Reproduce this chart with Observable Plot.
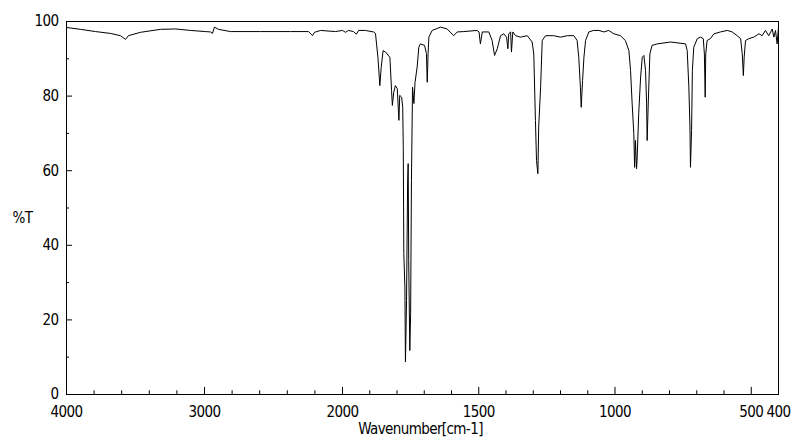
<!DOCTYPE html>
<html><head><meta charset="utf-8">
<script src="https://cdn.jsdelivr.net/npm/d3@7"></script>
<script src="https://cdn.jsdelivr.net/npm/@observablehq/plot@0.6"></script>
<style>html,body{margin:0;padding:0;background:#fff;overflow:hidden}
svg text{letter-spacing:-0.6px}</style>
</head><body><div id="chart"></div>
<script>
const wavenumber = [4000,3899,3790,3681,3609,3572,3551,3464,3319,3210,3101,2993,2957,2942,2928,2899,2812,2594,2377,2246,2217,2203,2159,2051,2000,
1989,1978,1960,1949,1941,1916,1886,1879,1870,1863,1858,1851,1842,1826,1820,1817,1812,1806,1799,1793,1790,1783,1779,1777,1775,1771,1769,1765,1761,1759,1757,1753,1750,1747,1743,1738,1734,1726,1720,1714,1699,1692,1689,1686,1683,1671,1640,1616,1592,1579,1555,1506,1499,1494,1487,1463,1451,1442,1432,1420,1408,1398,1393,1390,1383,1380,1375,1365,1347,1322,1304,1298,1292,1288,1283,1280,1273,1267,1255,1225,1200,1175,1151,1139,1133,1127,1124,1119,1114,1108,1096,1078,1059,1041,1023,1004,980,962,949,943,937,931,928,925,921,919,913,906,900,894,888,884,882,878,872,864,845,796,741,735,729,725,723,719,716,711,698,686,676,672,669,667,662,650,637,613,588,570,552,539,533,529,526,521,509,491,472,460,448,436,423,417,411,405,400];
const transmittance = [98.4,97.9,97.3,96.8,96.2,95.2,96.2,97.1,97.9,98.0,97.6,97.3,97.2,96.8,98.5,97.9,97.3,97.3,97.3,97.3,96.2,97.1,97.6,97.3,97.6,
97.1,97.6,97.3,96.6,97.6,97.6,97.2,96.8,90.4,82.8,87.7,92.2,91.8,90.4,81.5,77.5,81.0,82.8,82.0,73.5,80.2,79.7,77.0,66.3,37.8,28.8,8.7,25.2,57.4,61.9,35.9,11.8,21.7,57.4,82.4,78.0,83.6,87.8,93.1,94.0,93.6,91.4,83.7,91.4,95.8,97.6,98.5,98.0,96.2,97.2,97.3,97.6,97.2,94.0,97.2,97.2,94.9,90.9,92.7,96.2,96.7,95.8,92.7,96.7,97.2,91.8,97.2,96.2,95.8,96.2,94.5,91.3,73.5,62.7,59.2,71.7,82.4,94.9,96.2,96.2,95.8,96.2,96.2,94.9,90.4,82.4,77.0,84.2,90.4,94.9,97.2,97.6,97.6,97.2,97.6,96.7,96.2,94.9,92.2,86.9,77.9,70.0,60.9,68.1,60.5,62.7,75.3,85.1,90.4,90.9,86.9,77.9,68.1,77.9,91.3,93.6,94.0,94.5,94.0,92.2,82.4,71.7,60.9,70.8,86.9,93.1,95.4,95.8,95.4,91.3,79.7,91.3,94.9,95.4,96.7,97.2,97.6,97.2,96.2,95.4,91.3,85.5,90.4,94.9,95.4,95.8,96.7,96.2,97.6,96.2,98.0,95.8,97.6,94.0,98.5];

const xLabelTicks = [4000,3000,2000,1500,1000,500,400];
const xMajorTicks = [3000,2000,1500,1000,500];
const xMinorTicks = [3800,3600,3400,3200,2800,2600,2400,2200,1900,1800,1700,1600,1400,1300,1200,1100,900,800,700,600];
const yMajorTicks = [0,20,40,60,80,100];
const yMinorTicks = [10,30,50,70,90];
const xTitle = "Wavenumber[cm-1]";
const yTitle = "%T";

const spectrum = wavenumber.map((w, i) => ({w, t: transmittance[i]}));
const font = "'DejaVu Sans Condensed','Liberation Sans Narrow',sans-serif";

const chart = Plot.plot({
  width: 800, height: 441,
  marginTop: 21, marginBottom: 47, marginLeft: 66, marginRight: 22,
  x: {type: "linear", domain: [4000, 2000, 400], range: [66, 342, 778]},
  y: {domain: [0, 100], range: [394, 21]},
  style: {fontFamily: font, fontSize: "15px", color: "black", background: "white"},
  marks: [
    Plot.frame({stroke: "black", strokeWidth: 1}),
    Plot.ruleX(xMajorTicks, {x: d => d, y1: 0, y2: 1.9, stroke: "black"}),
    Plot.ruleX(xMinorTicks, {x: d => d, y1: 0, y2: 1.0, stroke: "black"}),
    Plot.ruleY(yMajorTicks, {y: d => d, x1: 4000, x2: 3956, stroke: "black"}),
    Plot.ruleY(yMinorTicks, {y: d => d, x1: 4000, x2: 3978, stroke: "black"}),
    Plot.axisX(xLabelTicks, {tickSize: 0, tickPadding: 12, tickFormat: d => String(d), label: null, fontSize: 15}),
    Plot.axisY(yMajorTicks, {tickSize: 0, tickPadding: 8, tickFormat: d => String(d), label: null, fontSize: 15}),
    Plot.line(spectrum, {x: "w", y: "t", stroke: "black", strokeWidth: 1}),
    Plot.text([xTitle], {text: d => d, frameAnchor: "bottom", textAnchor: "middle", lineAnchor: "middle", dy: 35, dx: -2, fontSize: 15}),
    Plot.text([yTitle], {text: d => d, frameAnchor: "left", textAnchor: "middle", lineAnchor: "middle", dx: -44, dy: 10, fontSize: 15})
  ]
});
document.getElementById("chart").appendChild(chart);
</script>
</body></html>
